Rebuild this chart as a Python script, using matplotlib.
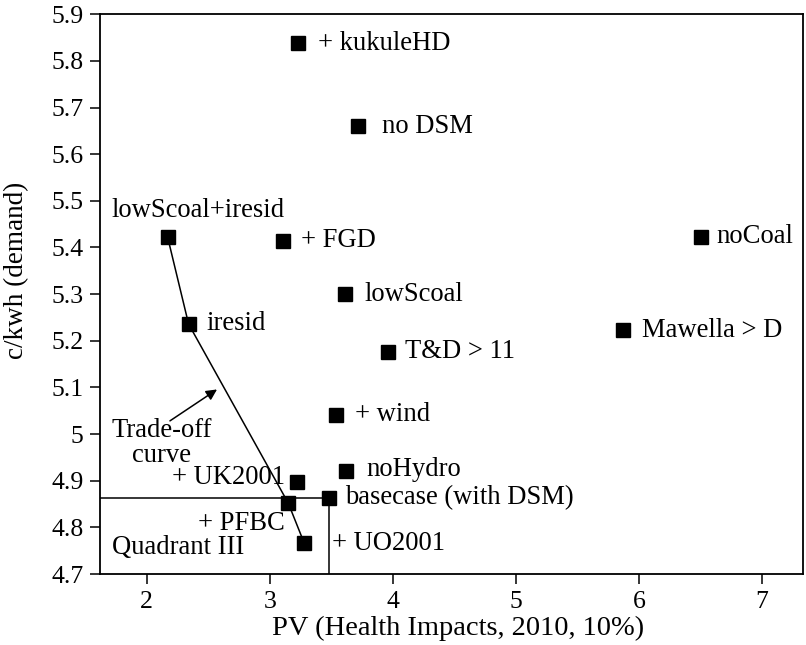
import matplotlib
matplotlib.use("Agg")
import matplotlib.pyplot as plt

plt.rcParams['font.family'] = ['Liberation Serif', 'DejaVu Serif']
plt.rcParams['font.size'] = 19.2

# scenario data
names = ['+ kukuleHD', 'no DSM', 'lowScoal+iresid', '+ FGD', 'noCoal', 'lowScoal',
         'iresid', 'Mawella > D', 'T&D > 11', '+ wind', 'noHydro', '+ UK2001',
         'basecase (with DSM)', '+ PFBC', '+ UO2001']
pv = [3.23, 3.72, 2.17, 3.11, 6.50, 3.61, 2.34, 5.87, 3.96, 3.54, 3.62, 3.22, 3.48, 3.15, 3.28]
cost = [5.838, 5.660, 5.422, 5.414, 5.422, 5.300, 5.236, 5.223, 5.176, 5.041, 4.921, 4.897,
        4.863, 4.852, 4.766]

# trade-off curve goes through these scenarios
curve = ['lowScoal+iresid', 'iresid', '+ PFBC', '+ UO2001']

# label placement: (dx px, dy px, ha)
offsets = {
    '+ kukuleHD': (20, 0, 'left'),
    'no DSM': (24, 0, 'left'),
    'lowScoal+iresid': (30, 27, 'center'),
    '+ FGD': (18, 0, 'left'),
    'noCoal': (16, 1, 'left'),
    'lowScoal': (20, 0, 'left'),
    'iresid': (18, 0, 'left'),
    'Mawella > D': (19, 0, 'left'),
    'T&D > 11': (17, 0, 'left'),
    '+ wind': (19, 0, 'left'),
    'noHydro': (20, 1, 'left'),
    '+ UK2001': (-12, 5, 'right'),
    'basecase (with DSM)': (16, 0, 'left'),
    '+ PFBC': (-3, -20, 'right'),
    '+ UO2001': (28, 0, 'left'),
}

fig = plt.figure(figsize=(8.06, 6.45), dpi=100)
ax = fig.add_axes([0.124, 0.110, 0.872, 0.868])

cx = [pv[names.index(n)] for n in curve]
cy = [cost[names.index(n)] for n in curve]
ax.plot(cx, cy, color='black', lw=1.1, zorder=2)

ax.plot(pv, cost, 's', color='black', markersize=10, zorder=3)

for n, x, y in zip(names, pv, cost):
    dx, dy, ha = offsets[n]
    ax.annotate(n, (x, y), xytext=(dx, dy), textcoords='offset pixels',
                ha=ha, va='center')

# quadrant III box around basecase
base_x = pv[names.index('basecase (with DSM)')]
base_y = cost[names.index('basecase (with DSM)')]
ax.plot([1.62, base_x], [base_y, base_y], color='black', lw=1.1)
ax.plot([base_x, base_x], [4.7, base_y], color='black', lw=1.1)
ax.text(1.715, 4.756, 'Quadrant III', ha='left', va='center')

ax.text(2.12, 4.981, 'Trade-off\ncurve', ha='center', va='center', linespacing=1.0)
ax.annotate('', xy=(2.59, 5.099), xytext=(2.17, 5.025),
            arrowprops=dict(arrowstyle='-|>', color='black', lw=1.1, mutation_scale=16))

ax.set_xlim(1.62, 7.33)
ax.set_ylim(4.7, 5.9)
ax.set_xticks([2, 3, 4, 5, 6, 7])
ax.set_yticks([4.7, 4.8, 4.9, 5.0, 5.1, 5.2, 5.3, 5.4, 5.5, 5.6, 5.7, 5.8, 5.9])
ax.set_yticklabels(['4.7', '4.8', '4.9', '5', '5.1', '5.2', '5.3', '5.4', '5.5',
                    '5.6', '5.7', '5.8', '5.9'])
ax.tick_params(direction='out', length=7, width=1.1, pad=5, labelsize=18.5)
for s in ax.spines.values():
    s.set_linewidth(1.3)

ax.set_xlabel('PV (Health Impacts, 2010, 10%)', fontsize=20.5)
ax.set_ylabel('c/kwh (demand)', fontsize=19.5)
ax.xaxis.set_label_coords(0.510, -0.075)
ax.yaxis.set_label_coords(-0.101, 0.543)

fig.savefig('out.png', dpi=100)
